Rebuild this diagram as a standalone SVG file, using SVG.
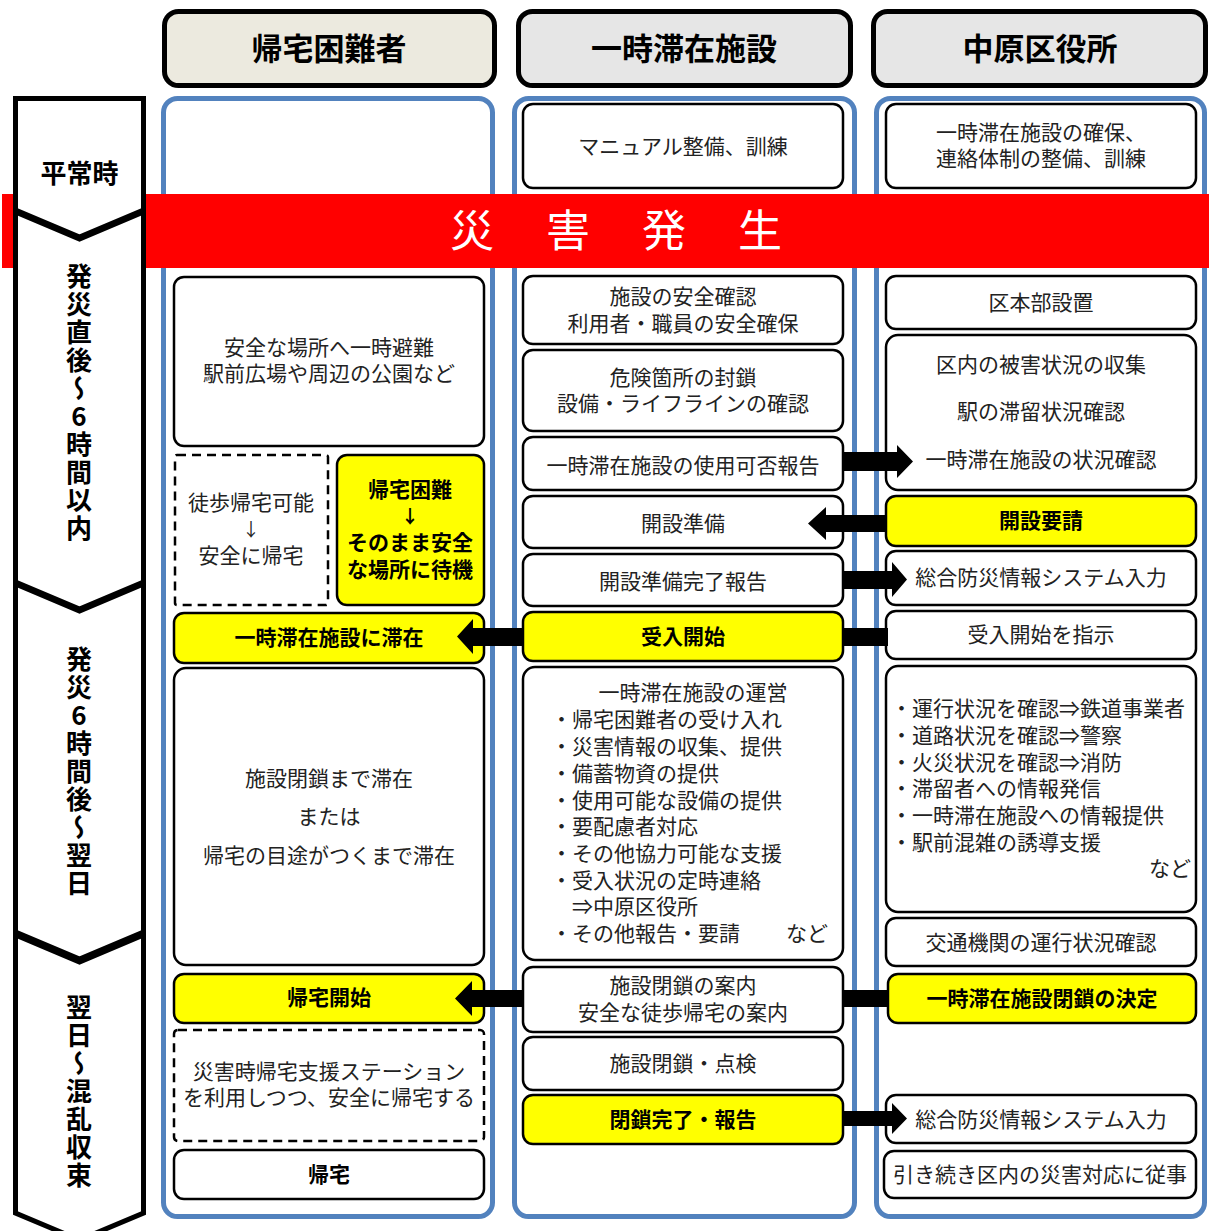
<svg xmlns="http://www.w3.org/2000/svg" width="1209" height="1231" viewBox="0 0 1209 1231">
<style>
.col{fill:#fff;stroke:#5282BE;stroke-width:5}
.hdr{stroke:#000;stroke-width:5}
.box{fill:#fff;stroke:#000;stroke-width:2.5}
.ybox{fill:#ffff00;stroke:#000;stroke-width:2.5}
.dash{fill:#fff;stroke:#000;stroke-width:2.5;stroke-dasharray:9 6}
.chev{fill:#fff;stroke:#000;stroke-width:5;stroke-linejoin:miter}
.t{font-family:"Noto Sans CJK JP","Noto Sans",sans-serif;font-size:21px;fill:#222;text-anchor:middle;dominant-baseline:central;transform:translateY(-2px)}
.l{text-anchor:start}
.e{text-anchor:end}
.b{font-weight:bold;fill:#000}
.sm{font-size:18px}
.h{font-family:"Noto Sans CJK JP",sans-serif;font-size:31px;font-weight:bold;fill:#000;text-anchor:middle;dominant-baseline:central;transform:translateY(-2px)}
.v{font-family:"Noto Sans CJK JP",sans-serif;font-size:26px;font-weight:bold;fill:#000;text-anchor:middle;dominant-baseline:central}
.vt{font-family:"Noto Sans CJK JP",sans-serif;font-size:26px;font-weight:bold;fill:#000;writing-mode:vertical-rl;text-orientation:upright;letter-spacing:2px;text-anchor:start}
.big{font-family:"Noto Sans CJK JP",sans-serif;font-size:44px;fill:#fff;text-anchor:middle;dominant-baseline:central;transform:translateY(-2px)}
.arr{fill:#000}
</style>

<g id="columns">
<rect class="col" x="163.5" y="98.5" width="329" height="1118" rx="14"/>
<rect class="col" x="514.5" y="98.5" width="340" height="1118" rx="14"/>
<rect class="col" x="876.5" y="98.5" width="328" height="1118" rx="14"/>
</g>

<g id="band">
<rect x="2" y="194" width="1207" height="74" fill="#ff0000"/>
<text class="big" x="472" y="230">災</text>
<text class="big" x="568" y="230">害</text>
<text class="big" x="664" y="230">発</text>
<text class="big" x="760" y="230">生</text>
</g>

<g id="timeline">
<path class="chev" d="M15.5,98.5 L143.5,98.5 L143.5,210 L79.5,237 L15.5,210 Z"/>
<text class="v" x="79.5" y="171">平常時</text>
<path class="chev" d="M15.5,212 L79.5,239 L143.5,212 L143.5,582 L79.5,609 L15.5,582 Z"/>
<text class="vt" x="79" y="263">発災直後～6時間以内</text>
<path class="chev" d="M15.5,584 L79.5,611 L143.5,584 L143.5,932 L79.5,959 L15.5,932 Z"/>
<text class="vt" x="79" y="646">発災6時間後～翌日</text>
<path class="chev" d="M15.5,935 L79.5,962 L143.5,935 L143.5,1213 L79.5,1240 L15.5,1213 Z"/>
<text class="vt" x="79" y="994">翌日～混乱収束</text>
</g>

<g id="headers">
<g id="hdr1"><rect class="hdr" x="164.5" y="11.5" width="330" height="74" rx="14" fill="#ECEADF"/><text class="h" x="329" y="48">帰宅困難者</text></g>
<g id="hdr2"><rect class="hdr" x="518.5" y="11.5" width="332" height="74" rx="14" fill="#E6E6E6"/><text class="h" x="684" y="48">一時滞在施設</text></g>
<g id="hdr3"><rect class="hdr" x="873.5" y="11.5" width="332" height="74" rx="14" fill="#E6E6E6"/><text class="h" x="1040" y="48">中原区役所</text></g>
</g>

<!-- Column 1 -->
<g id="c1-hinan"><rect class="box" x="174" y="277" width="310" height="169" rx="10"/>
<text class="t"><tspan x="329" y="348">安全な場所へ一時避難</tspan><tspan x="329" y="374">駅前広場や周辺の公園など</tspan></text></g>
<g id="c1-toho"><rect class="dash" x="175" y="455" width="153" height="150" rx="2"/>
<text class="t"><tspan x="251" y="503">徒歩帰宅可能</tspan><tspan class="sm" x="251" y="530">↓</tspan><tspan x="251" y="556">安全に帰宅</tspan></text></g>
<g id="c1-taiki"><rect class="ybox" x="337" y="455" width="147" height="150" rx="10"/>
<text class="t b"><tspan x="410" y="490">帰宅困難</tspan><tspan class="sm" x="410" y="517">↓</tspan><tspan x="410" y="543">そのまま安全</tspan><tspan x="410" y="570">な場所に待機</tspan></text></g>
<g id="c1-taizai"><rect class="ybox" x="174" y="613" width="310" height="50" rx="10"/><text class="t b" x="329" y="638">一時滞在施設に滞在</text></g>
<g id="c1-heisa"><rect class="box" x="174" y="668" width="310" height="297" rx="12"/>
<text class="t"><tspan x="329" y="779">施設閉鎖まで滞在</tspan><tspan x="329" y="817">または</tspan><tspan x="329" y="856">帰宅の目途がつくまで滞在</tspan></text></g>
<g id="c1-kitaku-kaishi"><rect class="ybox" x="174" y="974" width="310" height="49" rx="10"/><text class="t b" x="329" y="998">帰宅開始</text></g>
<g id="c1-station"><rect class="dash" x="174" y="1030" width="310" height="111" rx="4"/>
<text class="t"><tspan x="329" y="1072">災害時帰宅支援ステーション</tspan><tspan x="329" y="1098">を利用しつつ、安全に帰宅する</tspan></text></g>
<g id="c1-kitaku"><rect class="box" x="174" y="1150" width="310" height="49" rx="10"/><text class="t b" x="329" y="1175">帰宅</text></g>

<!-- Column 2 -->
<g id="c2-manual"><rect class="box" x="523" y="104" width="320" height="84" rx="10"/><text class="t" x="683" y="147">マニュアル整備、訓練</text></g>
<g id="c2-anzen"><rect class="box" x="523" y="276" width="320" height="68" rx="10"/>
<text class="t"><tspan x="683" y="297">施設の安全確認</tspan><tspan x="683" y="324">利用者・職員の安全確保</tspan></text></g>
<g id="c2-kiken"><rect class="box" x="523" y="350" width="320" height="81" rx="10"/>
<text class="t"><tspan x="683" y="378">危険箇所の封鎖</tspan><tspan x="683" y="404">設備・ライフラインの確認</tspan></text></g>
<g id="c2-kahi"><rect class="box" x="523" y="437" width="320" height="53" rx="10"/><text class="t" x="683" y="466">一時滞在施設の使用可否報告</text></g>
<g id="c2-junbi"><rect class="box" x="523" y="496" width="320" height="52" rx="10"/><text class="t" x="683" y="524">開設準備</text></g>
<g id="c2-kanryo"><rect class="box" x="523" y="554" width="320" height="52" rx="10"/><text class="t" x="683" y="582">開設準備完了報告</text></g>
<g id="c2-ukeire"><rect class="ybox" x="523" y="612" width="320" height="49" rx="10"/><text class="t b" x="683" y="637">受入開始</text></g>
<g id="c2-unei"><rect class="box" x="523" y="667" width="320" height="293" rx="12"/>
<text class="t l"><tspan text-anchor="middle" x="693" y="693">一時滞在施設の運営</tspan><tspan x="551" y="720">・帰宅困難者の受け入れ</tspan><tspan x="551" y="747">・災害情報の収集、提供</tspan><tspan x="551" y="774">・備蓄物資の提供</tspan><tspan x="551" y="801">・使用可能な設備の提供</tspan><tspan x="551" y="827">・要配慮者対応</tspan><tspan x="551" y="854">・その他協力可能な支援</tspan><tspan x="551" y="881">・受入状況の定時連絡</tspan><tspan x="572" y="907">⇒中原区役所</tspan><tspan x="551" y="934">・その他報告・要請</tspan><tspan x="786" y="934">など</tspan></text></g>
<g id="c2-annai"><rect class="box" x="523" y="967" width="320" height="65" rx="10"/>
<text class="t"><tspan x="683" y="986">施設閉鎖の案内</tspan><tspan x="683" y="1013">安全な徒歩帰宅の案内</tspan></text></g>
<g id="c2-tenken"><rect class="box" x="523" y="1037" width="320" height="53" rx="10"/><text class="t" x="683" y="1064">施設閉鎖・点検</text></g>
<g id="c2-heisa-kanryo"><rect class="ybox" x="523" y="1095" width="320" height="49" rx="10"/><text class="t b" x="683" y="1120">閉鎖完了・報告</text></g>

<!-- Column 3 -->
<g id="c3-kakuho"><rect class="box" x="886" y="104" width="310" height="84" rx="10"/>
<text class="t"><tspan x="1041" y="133">一時滞在施設の確保、</tspan><tspan x="1041" y="159">連絡体制の整備、訓練</tspan></text></g>
<g id="c3-honbu"><rect class="box" x="886" y="276" width="310" height="53" rx="10"/><text class="t" x="1041" y="303">区本部設置</text></g>
<g id="c3-joukyou"><rect class="box" x="886" y="335" width="310" height="155" rx="12"/>
<text class="t"><tspan x="1041" y="365">区内の被害状況の収集</tspan><tspan x="1041" y="412">駅の滞留状況確認</tspan><tspan x="1041" y="460">一時滞在施設の状況確認</tspan></text></g>
<g id="c3-yousei"><rect class="ybox" x="886" y="496" width="310" height="50" rx="10"/><text class="t b" x="1041" y="521">開設要請</text></g>
<g id="c3-system1"><rect class="box" x="886" y="551" width="310" height="54" rx="10"/><text class="t" x="1041" y="578">総合防災情報システム入力</text></g>
<g id="c3-shiji"><rect class="box" x="886" y="611" width="310" height="48" rx="10"/><text class="t" x="1041" y="635">受入開始を指示</text></g>
<g id="c3-list"><rect class="box" x="886" y="666" width="310" height="246" rx="12"/>
<text class="t l"><tspan x="891" y="709">・運行状況を確認⇒鉄道事業者</tspan><tspan x="891" y="736">・道路状況を確認⇒警察</tspan><tspan x="891" y="763">・火災状況を確認⇒消防</tspan><tspan x="891" y="789">・滞留者への情報発信</tspan><tspan x="891" y="816">・一時滞在施設への情報提供</tspan><tspan x="891" y="843">・駅前混雑の誘導支援</tspan><tspan x="1149" y="869">など</tspan></text></g>
<g id="c3-koutsu"><rect class="box" x="886" y="918" width="310" height="48" rx="10"/><text class="t" x="1041" y="943">交通機関の運行状況確認</text></g>
<g id="c3-kettei"><rect class="ybox" x="888" y="974" width="308" height="49" rx="10"/><text class="t b" x="1042" y="999">一時滞在施設閉鎖の決定</text></g>
<g id="c3-system2"><rect class="box" x="886" y="1095" width="310" height="48" rx="10"/><text class="t" x="1041" y="1120">総合防災情報システム入力</text></g>
<g id="c3-juuji"><rect class="box" x="884" y="1151" width="312" height="47" rx="10"/><text class="t" x="1040" y="1175">引き続き区内の災害対応に従事</text></g>

<g id="connectors">
<path class="arr" d="M843,452 L897,452 L897,445 L913,461.5 L897,478 L897,471 L843,471 Z"/>
<path class="arr" d="M886,515 L826,515 L826,507 L808,523.5 L826,540 L826,532 L886,532 Z"/>
<path class="arr" d="M843,571 L892,571 L892,562 L907,579.5 L892,597 L892,589 L843,589 Z"/>
<rect class="arr" x="843" y="628" width="45" height="18"/>
<path class="arr" d="M523,628 L473,628 L473,619 L457,636.5 L473,654 L473,646 L523,646 Z"/>
<rect class="arr" x="843" y="990" width="45" height="17"/>
<path class="arr" d="M523,990 L472,990 L472,981 L455,998.5 L472,1016 L472,1007 L523,1007 Z"/>
<path class="arr" d="M843,1111 L892,1111 L892,1103 L907,1118.5 L892,1134 L892,1126 L843,1126 Z"/>
</g>
</svg>
